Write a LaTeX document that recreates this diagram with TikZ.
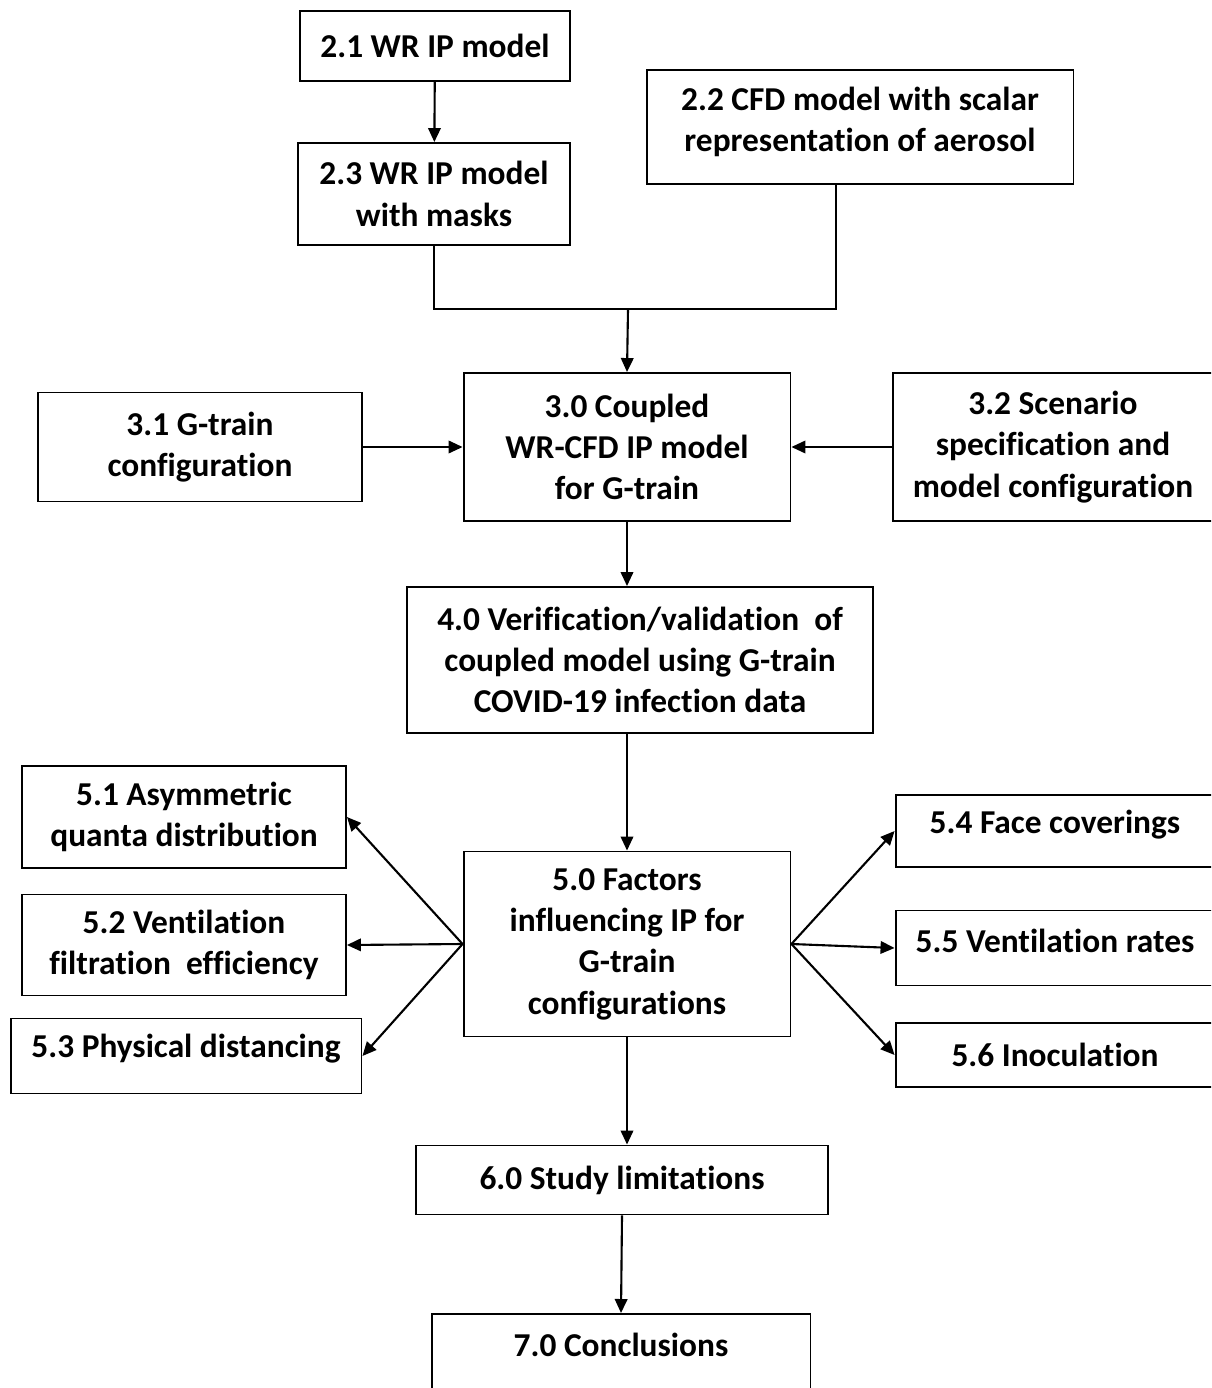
\documentclass[tikz,border=0pt]{standalone}
\usepackage{fontspec}
\setmainfont{Carlito}[Ligatures=CommonOff]
\usepackage{tikz}
\usetikzlibrary{arrows.meta, positioning, calc}

\tikzset{
  box/.style={draw=black, line width=1.1pt, fill=white, align=center,
    font=\fontsize{19}{23.5}\selectfont\bfseries, inner sep=2pt},
  link/.style={draw=black, line width=1.2pt},
  arr/.style={link, -{Triangle[length=0.28cm, width=0.25cm]}},
}

\begin{document}
\begin{tikzpicture}[x=0.02cm, y=-0.02cm]

%% Frame
\clip (0,0) rectangle (1211,1388);
\fill[white] (0,0) rectangle (1211,1388);

%% ── Section 2 models ────────────────────────────────────────────────────
\node[box, minimum width=5.40cm, minimum height=1.40cm] (b21) at (435,46) {2.1 WR IP model};
\node[box, minimum width=5.44cm, minimum height=2.04cm] (b23) at (434,194) {2.3 WR IP model\\with masks};
\node[box, minimum width=8.54cm, minimum height=2.28cm, text depth=0.3cm] (b22) at (860,127) {2.2 CFD model with scalar\\representation of aerosol};

%% ── Section 3 coupling ──────────────────────────────────────────────────
\node[box, minimum width=6.54cm, minimum height=2.96cm] (b30) at (627,447) {3.0 Coupled\\WR-CFD IP model\\for G-train};
\node[box, minimum width=6.48cm, minimum height=2.18cm] (b31) at (200,447) {3.1 G-train\\configuration};
\node[box, minimum width=6.42cm, minimum height=2.96cm] (b32) at (1053,447) {3.2 Scenario\\specification and\\model configuration};

%% ── Section 4 verification ──────────────────────────────────────────────
\node[box, minimum width=9.32cm, minimum height=2.92cm] (b40) at (640,660) {4.0 Verification/validation\ \ of\\coupled model using G-train\\COVID-19 infection data};

%% ── Section 5 factors ───────────────────────────────────────────────────
\node[box, minimum width=6.54cm, minimum height=3.70cm] (b50) at (627,944) {5.0 Factors\\influencing IP for\\G-train\\configurations};
\node[box, minimum width=6.48cm, minimum height=2.04cm] (b51) at (184,817) {5.1 Asymmetric\\quanta distribution};
\node[box, minimum width=6.48cm, minimum height=2.02cm] (b52) at (184,945) {5.2 Ventilation\\filtration\ \ efficiency};
\node[box, minimum width=7.02cm, minimum height=1.50cm, text depth=0.42cm] (b53) at (186,1056) {5.3 Physical distancing};
\node[box, minimum width=6.38cm, minimum height=1.44cm, text depth=0.36cm] (b54) at (1055,831) {5.4 Face coverings};
\node[box, minimum width=6.38cm, minimum height=1.50cm, text depth=0.30cm] (b55) at (1055,948) {5.5 Ventilation rates};
\node[box, minimum width=6.38cm, minimum height=1.28cm] (b56) at (1055,1055) {5.6 Inoculation};

%% ── Sections 6 and 7 ────────────────────────────────────────────────────
\node[box, minimum width=8.24cm, minimum height=1.38cm] (b60) at (622,1180) {6.0 Study limitations};
\node[box, minimum width=7.58cm, anchor=north, inner ysep=0pt, text height=0.85cm, text depth=1.3cm] (b70) at (621,1313) {7.0 Conclusions};

%% Connectors
\coordinate (join) at (628,309);
\coordinate (b22foot) at ([xshift=-0.48cm]b22.south);
\draw[arr] (b21) -- (b23);
\draw[link] (b23.south) |- (join) -| (b22foot);
\draw[arr] (join) -- (b30.north);
\draw[arr] (b31.east) -- (b30.west);
\draw[arr] (b32.west) -- (b30.east);
\draw[arr] (b30.south) -- (b30.south |- b40.north);
\draw[arr] (b40.south -| b50.north) -- (b50.north);
\foreach \t in {b51, b52, b53} \draw[arr] (b50.west) -- (\t.east);
\foreach \t in {b54, b55, b56} \draw[arr] (b50.east) -- (\t.west);
\draw[arr] (b50.south) -- (b50.south |- b60.north);
\draw[arr] (b60.south) -- (b70.north);

\end{tikzpicture}
\end{document}
